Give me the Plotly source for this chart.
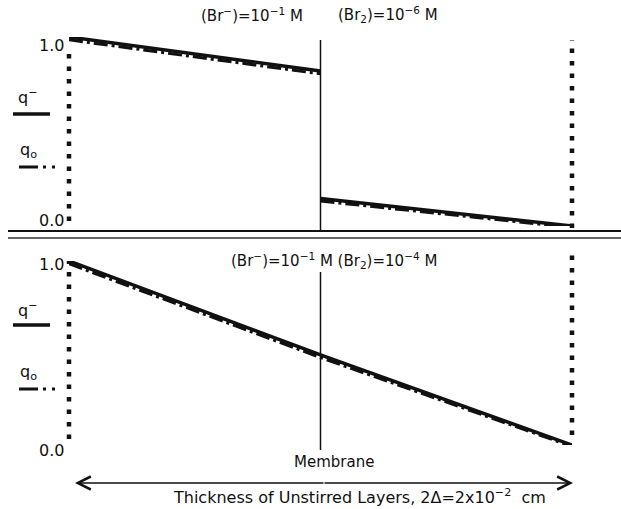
import plotly.graph_objects as go

# ---- data ----
x_top_left = [0.0, 0.5]
qminus_top_left = [1.0, 0.82]
q0_top_left = [0.985, 0.805]
x_top_right = [0.5, 1.0]
qminus_top_right = [0.145, 0.0]
q0_top_right = [0.132, -0.008]
x_bottom = [0.0, 0.5, 1.0]
qminus_bottom = [1.0, 0.49, 0.0]
q0_bottom = [0.985, 0.475, -0.008]

top_labels = ["(Br<sup>−</sup>)=10<sup>−1</sup> M", "(Br<sub>2</sub>)=10<sup>−6</sup> M"]
bottom_label = "(Br<sup>−</sup>)=10<sup>−1</sup> M (Br<sub>2</sub>)=10<sup>−4</sup> M"
tick_text = ["1.0", "0.0"]
xlabel = "Thickness of Unstirred Layers, 2Δ=2x10<sup>−2</sup>  cm"

W, H = 621, 509
FONT = "DejaVu Sans"
INK = "#111111"


def px(x):
    return x / W


def py(y):
    return 1 - y / H


XDOM = [px(69), px(572)]

fig = go.Figure()

solid = dict(color=INK, width=3.5)
dashdot = dict(color=INK, width=3, dash="14px,4px,3px,4px")

for xs, ys, yax in [(x_top_left, qminus_top_left, "y"), (x_top_right, qminus_top_right, "y"),
                    (x_bottom, qminus_bottom, "y2")]:
    fig.add_trace(go.Scatter(x=xs, y=ys, mode="lines", line=solid, yaxis=yax,
                             cliponaxis=False, showlegend=False, hoverinfo="skip"))
for xs, ys, yax in [(x_top_left, q0_top_left, "y"), (x_top_right, q0_top_right, "y"),
                    (x_bottom, q0_bottom, "y2")]:
    fig.add_trace(go.Scatter(x=xs, y=ys, mode="lines", line=dashdot, yaxis=yax,
                             cliponaxis=False, showlegend=False, hoverinfo="skip"))

shapes = []
dots = dict(color=INK, width=4.5, dash="4.5px,8px")
# boundary dotted lines (at the two ends of the x domain)
for xv, y0, y1 in [(XDOM[0], 47, 221), (XDOM[1], 40, 228), (XDOM[0], 261, 439), (XDOM[1], 251, 435)]:
    shapes.append(dict(type="line", xref="paper", yref="paper", x0=xv, x1=xv,
                       y0=py(y1), y1=py(y0), line=dots))
# membrane lines
for y0, y1 in [(40, 231), (272, 450)]:
    shapes.append(dict(type="line", xref="x", yref="paper", x0=0.5, x1=0.5,
                       y0=py(y1), y1=py(y0), line=dict(color=INK, width=1.5)))
# separators
shapes.append(dict(type="line", xref="paper", yref="paper", x0=px(8), x1=1,
                   y0=py(231), y1=py(231), line=dict(color=INK, width=2)))
shapes.append(dict(type="line", xref="paper", yref="paper", x0=px(8), x1=1,
                   y0=py(238), y1=py(238), line=dict(color="#333333", width=1.5)))
# legend samples
for y in [114, 325]:
    shapes.append(dict(type="line", xref="paper", yref="paper", x0=px(13), x1=px(50),
                       y0=py(y), y1=py(y), line=dict(color=INK, width=3.5)))
for y in [167, 389]:
    shapes.append(dict(type="line", xref="paper", yref="paper", x0=px(19), x1=px(55),
                       y0=py(y), y1=py(y),
                       line=dict(color=INK, width=3, dash="19px,5px,3px,6px,3px,40px")))

ann = []
C = dict(xanchor="center", yanchor="middle", showarrow=False)
f15 = dict(family=FONT, size=15, color=INK)
ann.append(dict(text=top_labels[0], xref="paper", yref="paper", x=px(252), y=py(15), font=f15, **C))
ann.append(dict(text=top_labels[1], xref="paper", yref="paper", x=px(388), y=py(15), font=f15, **C))
ann.append(dict(text=bottom_label, xref="paper", yref="paper", x=px(334), y=py(260), font=f15, **C))
ann.append(dict(text="Membrane", xref="x", yref="paper", x=0.5, y=py(462), xshift=13,
                font=f15, **C))
ann.append(dict(text=xlabel, xref="paper", yref="paper", x=px(359), y=py(496),
                font=dict(family=FONT, size=16, color=INK), **C))
# tick labels
for t, yy in [(tick_text[0], 45), (tick_text[1], 220), (tick_text[0], 264), (tick_text[1], 450)]:
    ann.append(dict(text=t, xref="paper", yref="paper", x=px(66), y=py(yy), xanchor="right",
                    yanchor="middle", showarrow=False,
                    font=dict(family=FONT, size=16, color=INK)))
# legend labels
for t, yy in [("q<sup>−</sup>", 96), ("q<sub>o</sub>", 151), ("q<sup>−</sup>", 309), ("q<sub>o</sub>", 372)]:
    ann.append(dict(text=t, xref="paper", yref="paper", x=px(28), y=py(yy),
                    font=dict(family=FONT, size=16, color=INK), **C))
# double arrow
for tip, off in [(573, -250), (75, 250)]:
    ann.append(dict(text="", xref="paper", yref="paper", x=px(tip), y=py(483),
                    ax=off, ay=0, showarrow=True, arrowhead=5, arrowsize=1.7,
                    arrowwidth=1.5, arrowcolor=INK, standoff=0))

fig.update_layout(
    width=W, height=H, margin=dict(l=0, r=0, t=0, b=0),
    paper_bgcolor="white", plot_bgcolor="white",
    xaxis=dict(domain=XDOM, range=[0, 1], visible=False),
    yaxis=dict(domain=[py(226), py(37)], range=[0, 1], visible=False, anchor="x"),
    yaxis2=dict(domain=[py(445), py(261)], range=[0, 1], visible=False, anchor="x"),
    shapes=shapes, annotations=ann, showlegend=False,
)

fig.write_html("out.html")
